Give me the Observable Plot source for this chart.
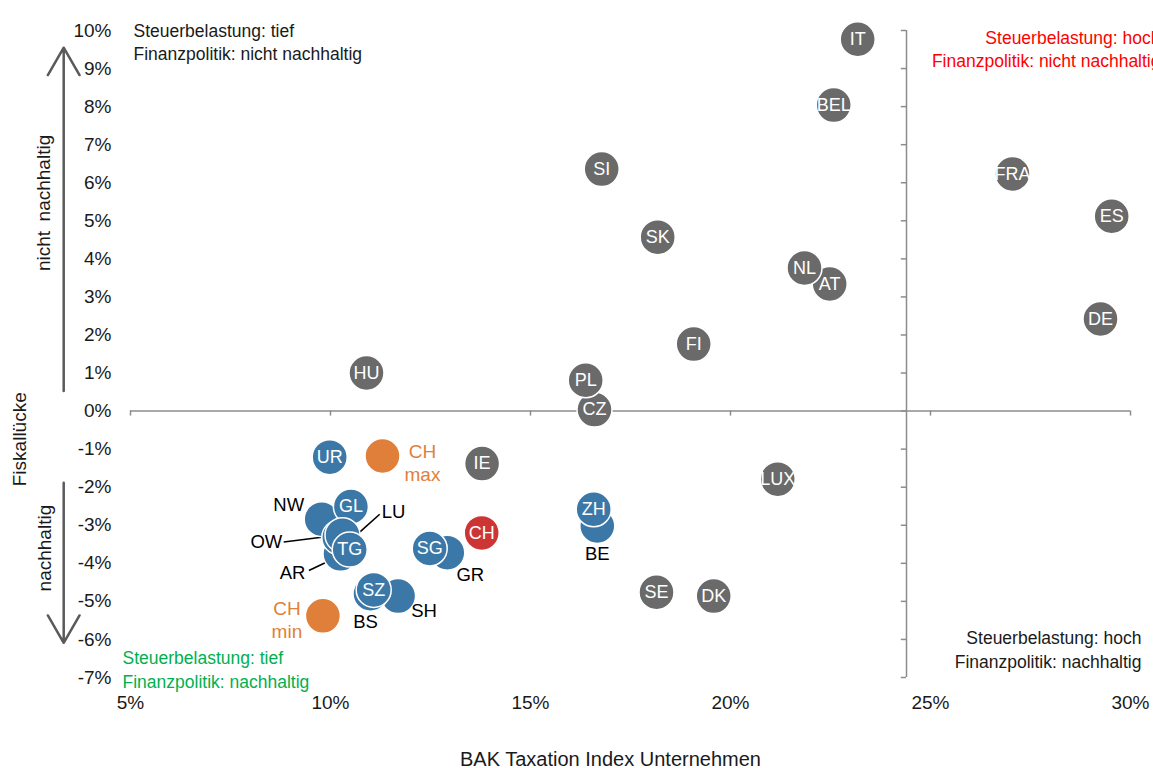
<!DOCTYPE html>
<html>
<head>
<meta charset="utf-8">
<script src="https://cdn.jsdelivr.net/npm/d3@7"></script>
<script src="https://cdn.jsdelivr.net/npm/@observablehq/plot@0.6"></script>
<style>
  html, body { margin: 0; padding: 0; background: #fff; overflow: hidden; }
  #chart svg { display: block; }
</style>
</head>
<body>
<div id="chart"></div>
<script>
// ---- Data ----
const countryNames = ["IT","BEL","SI","SK","FRA","ES","AT","NL","DE","FI","HU","CZ","PL","IE","LUX","SE","DK"];
const countryTax   = [23.18,22.58,16.78,18.18,27.05,29.53,22.48,21.85,29.25,19.08,10.9,16.6,16.38,13.79,21.18,18.15,19.58];
const countryGap   = [9.77,8.04,6.36,4.57,6.23,5.12,3.34,3.76,2.42,1.76,1.0,0.04,0.81,-1.38,-1.79,-4.76,-4.86];

const cantonNames  = ["NW","GL","AR","OW","LU","TG","SH","BS","SZ","GR","SG","BE","ZH","UR"];
const cantonTax    = [9.78,10.51,10.25,10.22,10.3,10.48,11.69,11.0,11.08,12.92,12.48,16.67,16.58,9.98];
const cantonGap    = [-2.84,-2.51,-3.75,-3.32,-3.26,-3.64,-4.86,-4.8,-4.7,-3.72,-3.61,-3.02,-2.58,-1.21];
const cantonInside = ["GL","TG","SZ","SG","ZH","UR"];

const chNames = ["CH"];
const chTax   = [13.78];
const chGap   = [-3.2];

const chRangeNames = ["CH\nmax","CH\nmin"];
const chRangeTax   = [11.3,9.81];
const chRangeGap   = [-1.18,-5.38];

const xTicks = [5,10,15,20,25,30];
const yTicks = [-7,-6,-5,-4,-3,-2,-1,0,1,2,3,4,5,6,7,8,9,10];
const yAxisCrossing = 24.4;

// ---- Build tables ----
const countries = countryNames.map((n,i)=>({name:n, x:countryTax[i], y:countryGap[i]}));
const cantons = cantonNames.map((n,i)=>({name:n, x:cantonTax[i], y:cantonGap[i]}));
const ch = chNames.map((n,i)=>({name:n, x:chTax[i], y:chGap[i]}));
const chRange = chRangeNames.map((n,i)=>({name:n, x:chRangeTax[i], y:chRangeGap[i]}));
const byName = Object.fromEntries(cantons.map(d=>[d.name,d]));

const grey = "#6a6a6a", blue = "#3b78a8", orange = "#e07f3a", red = "#cd3535";
const R = 17.5;

// external canton labels (pixel offsets from the point)
const extLabels = [
  {name:"NW", dx:-33, dy:-14},
  {name:"OW", dx:-73, dy:5},
  {name:"LU", dx:51, dy:-23},
  {name:"AR", dx:-48, dy:19},
  {name:"BS", dx:-5, dy:28},
  {name:"SH", dx:26, dy:15},
  {name:"GR", dx:23, dy:22},
  {name:"BE", dx:0, dy:28}
];
// leader lines (from label to point, in data units)
const leaders = [
  {x1:8.83, y1:-3.44, x2:10.03, y2:-3.28},
  {x1:11.23, y1:-2.71, x2:10.73, y2:-3.18},
  {x1:9.46, y1:-4.19, x2:9.96, y2:-3.94}
];

const font = "'Liberation Sans', Arial, sans-serif";

const marks = [
  // horizontal axis line at 0
  Plot.ruleY([0], {stroke:"#8c8c8c", strokeWidth:1.5}),
  Plot.ruleX(xTicks, {x:d=>d, y1:0, y2:-0.13, stroke:"#8c8c8c", strokeWidth:1.5}),
  // vertical axis line
  Plot.ruleX([yAxisCrossing], {y1:-7, y2:10, stroke:"#8c8c8c", strokeWidth:1.5}),
  Plot.ruleY(yTicks, {y:d=>d, x1:yAxisCrossing-0.13, x2:yAxisCrossing, stroke:"#8c8c8c", strokeWidth:1.5}),
  // tick labels
  Plot.axisY(yTicks, {tickSize:0, tickPadding:19, tickFormat:d=>d+"%", fontSize:19, color:"#1a1a1a", label:null}),
  Plot.axisX(xTicks, {tickSize:0, tickPadding:18, tickFormat:d=>d+"%", fontSize:19, color:"#1a1a1a", label:null}),
  // leader lines
  Plot.link(leaders, {x1:"x1", y1:"y1", x2:"x2", y2:"y2", stroke:"#000", strokeWidth:1.6}),
  // dots
  Plot.dot(countries, {x:"x", y:"y", r:R, fill:grey, stroke:"white", strokeWidth:1.5}),
  Plot.dot(cantons, {x:"x", y:"y", r:R, fill:blue, stroke:"white", strokeWidth:1.5}),
  Plot.dot(ch, {x:"x", y:"y", r:R, fill:red, stroke:"white", strokeWidth:1.5}),
  Plot.dot(chRange, {x:"x", y:"y", r:R, fill:orange, stroke:"white", strokeWidth:1.5}),
  // inside labels
  Plot.text(countries, {x:"x", y:"y", text:"name", fill:"white", fontSize:18}),
  Plot.text(cantons.filter(d=>cantonInside.includes(d.name)), {x:"x", y:"y", text:"name", fill:"white", fontSize:18}),
  Plot.text(ch, {x:"x", y:"y", text:"name", fill:"white", fontSize:18}),
  // external labels
  ...extLabels.map(l => Plot.text([byName[l.name]], {x:"x", y:"y", text:"name", dx:l.dx, dy:l.dy, fill:"#000", fontSize:18.5})),
  Plot.text([chRange[0]], {x:"x", y:"y", text:"name", dx:40, dy:6, fill:orange, fontSize:19, lineHeight:1.22}),
  Plot.text([chRange[1]], {x:"x", y:"y", text:"name", dx:-36, dy:3, fill:orange, fontSize:19, lineHeight:1.22}),
  // side arrows and labels
  Plot.arrow([{x:3.33, y1:0.53, y2:9.55}], {x1:"x", x2:"x", y1:"y1", y2:"y2", stroke:"#5a5a5a", strokeWidth:2.5, headLength:19, headAngle:60}),
  Plot.arrow([{x:3.33, y1:-1.88, y2:-6.09}], {x1:"x", x2:"x", y1:"y1", y2:"y2", stroke:"#5a5a5a", strokeWidth:2.5, headLength:19, headAngle:60}),
  Plot.text(["nicht\u2002nachhaltig"], {x:2.83, y:5.47, text:d=>d, rotate:-90, fontSize:19, fill:"#1a1a1a"}),
  Plot.text(["nachhaltig"], {x:2.85, y:-3.6, text:d=>d, rotate:-90, fontSize:19, fill:"#1a1a1a"}),
  Plot.text(["Fiskallücke"], {x:2.24, y:-0.74, text:d=>d, rotate:-90, fontSize:19, fill:"#1a1a1a"}),
  // axis title
  Plot.text(["BAK Taxation Index Unternehmen"], {frameAnchor:"bottom", text:d=>d, dx:-20, dy:88, lineAnchor:"bottom", fontSize:20, fill:"#1a1a1a"}),
  // quadrant annotations
  Plot.text(["Steuerbelastung: tief\nFinanzpolitik: nicht nachhaltig"], {frameAnchor:"top-left", text:d=>d, textAnchor:"start", lineAnchor:"top", dx:3, dy:-10, fontSize:17.5, lineHeight:1.32, fill:"#1a1a1a"}),
  Plot.text(["Steuerbelastung: hoch\nFinanzpolitik: nicht nachhaltig"], {frameAnchor:"top-right", text:d=>d, textAnchor:"end", lineAnchor:"top", dx:30, dy:-3, fontSize:17.5, lineHeight:1.32, fill:"#ff0000"}),
  Plot.text(["Steuerbelastung: hoch\nFinanzpolitik: nachhaltig"], {frameAnchor:"bottom-right", text:d=>d, textAnchor:"end", lineAnchor:"bottom", dx:11, dy:-10, fontSize:17.5, lineHeight:1.32, fill:"#1a1a1a"}),
  Plot.text(["Steuerbelastung: tief\nFinanzpolitik: nachhaltig"], {frameAnchor:"bottom-left", text:d=>d, textAnchor:"start", lineAnchor:"bottom", dx:-8, dy:10, fontSize:17.5, lineHeight:1.32, fill:"#00b050"})
];

const chart = Plot.plot({
  width: 1153,
  height: 768,
  marginLeft: 130,
  marginRight: 23,
  marginTop: 30,
  marginBottom: 91,
  x: {domain:[5,30]},
  y: {domain:[-7,10]},
  style: {fontFamily: font, background: "white", overflow: "visible"},
  marks
});
document.getElementById("chart").appendChild(chart);
</script>
</body>
</html>
